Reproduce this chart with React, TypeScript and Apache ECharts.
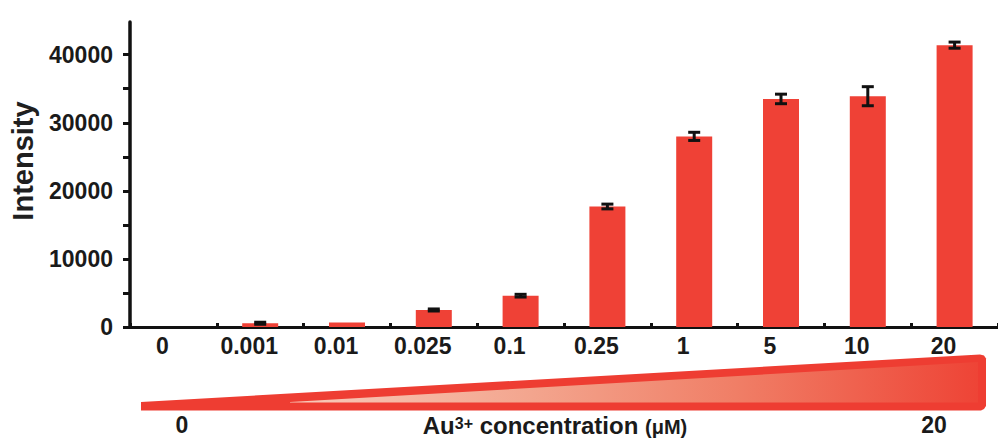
import React, { useEffect, useRef } from "react";
import * as echarts from "echarts";

const categories = ["0", "0.001", "0.01", "0.025", "0.1", "0.25", "1", "5", "10", "20"];
const intensity = [0, 550, 650, 2500, 4600, 17700, 28000, 33500, 33900, 41400];
const errors = [0, 150, 0, 150, 200, 350, 600, 700, 1400, 450];
const yTickValues = [0, 5000, 10000, 15000, 20000, 25000, 30000, 35000, 40000];
const yLabelValues = [0, 10000, 20000, 30000, 40000];
const gradientLeftLabel = "0";
const gradientRightLabel = "20";

const FONT = "'Liberation Sans', Arial, Helvetica, sans-serif";
const RED = "#ef4136";

export default function App() {
  const ref = useRef<HTMLDivElement>(null);

  useEffect(() => {
    if (!ref.current) return;
    const chart = echarts.init(ref.current, undefined, { renderer: "svg" });

    const errData = categories.map((_, i) => [i, intensity[i], errors[i]]);

    const option: any = {
      animation: false,
      backgroundColor: "#ffffff",
      grid: { left: 130, top: 22, height: 305, width: 877, containLabel: false },
      xAxis: {
        type: "category",
        data: categories,
        boundaryGap: true,
        axisLine: { show: true, lineStyle: { color: "#111", width: 3 } },
        axisTick: { show: true, inside: true, length: 4, lineStyle: { color: "#111", width: 3 } },
        axisLabel: {
          interval: 0,
          margin: 7,
          fontFamily: FONT,
          fontWeight: "bold",
          fontSize: 23,
          color: "#1a1a1a",
          padding: [0, 22, 0, 0],
        },
        splitLine: { show: false },
      },
      yAxis: {
        type: "value",
        min: 0,
        max: 44800,
        interval: 5000,
        axisLine: { show: true, lineStyle: { color: "#111", width: 3.5 } },
        axisTick: {
          show: true,
          length: 7,
          customValues: yTickValues,
          lineStyle: { color: "#111", width: 3 },
        },
        axisLabel: {
          customValues: yLabelValues,
          margin: 17,
          fontFamily: FONT,
          fontWeight: "bold",
          fontSize: 23,
          color: "#1a1a1a",
          formatter: (v: number) => (v % 10000 === 0 ? String(v) : ""),
        },
        splitLine: { show: false },
      },
      series: [
        {
          type: "bar",
          data: intensity,
          barWidth: 36,
          itemStyle: { color: RED },
          z: 2,
        },
        {
          type: "custom",
          data: errData,
          encode: { x: 0, y: 1 },
          z: 3,
          renderItem: (params: any, api: any) => {
            const x = api.value(0);
            const v = api.value(1);
            const e = api.value(2);
            if (!e) return null;
            const top = api.coord([x, v + e]);
            const bot = api.coord([x, v - e]);
            const hw = 6;
            const st = { stroke: "#111", lineWidth: 3 };
            return {
              type: "group",
              children: [
                { type: "line", shape: { x1: top[0], y1: top[1], x2: bot[0], y2: bot[1] }, style: st },
                { type: "line", shape: { x1: top[0] - hw, y1: top[1], x2: top[0] + hw, y2: top[1] }, style: st },
                { type: "line", shape: { x1: bot[0] - hw, y1: bot[1], x2: bot[0] + hw, y2: bot[1] }, style: st },
              ],
            };
          },
        },
      ],
      graphic: [
        {
          type: "text",
          x: 23,
          y: 161,
          rotation: Math.PI / 2,
          style: {
            text: "Intensity",
            fontFamily: FONT,
            fontWeight: "bold",
            fontSize: 29,
            fill: "#1f1f1f",
            textAlign: "center",
            textVerticalAlign: "middle",
          },
        },
        {
          type: "polygon",
          shape: {
            points: [
              [141, 402],
              [980, 354.5],
              [984, 355.5],
              [986, 358.5],
              [986, 406],
              [984, 409],
              [981, 410.5],
              [141, 410.5],
            ],
          },
          style: { fill: "#ee3d32" },
        },
        {
          type: "polygon",
          shape: {
            points: [
              [290, 402],
              [978, 362],
              [978, 402.5],
              [290, 402.5],
            ],
          },
          style: {
            fill: new echarts.graphic.LinearGradient(0, 0, 1, 0, [
              { offset: 0, color: "#f8cbbb" },
              { offset: 0.35, color: "#f3a58e" },
              { offset: 0.65, color: "#f07e66" },
              { offset: 1, color: "#ee4436" },
            ]),
          },
        },
        {
          type: "text",
          x: 182,
          y: 425,
          style: {
            text: gradientLeftLabel,
            fontFamily: FONT,
            fontWeight: "bold",
            fontSize: 23,
            fill: "#1a1a1a",
            textAlign: "center",
            textVerticalAlign: "middle",
          },
        },
        {
          type: "text",
          x: 934,
          y: 425,
          style: {
            text: gradientRightLabel,
            fontFamily: FONT,
            fontWeight: "bold",
            fontSize: 23,
            fill: "#1a1a1a",
            textAlign: "center",
            textVerticalAlign: "middle",
          },
        },
        {
          type: "text",
          x: 555,
          y: 426,
          style: {
            text: "{a|Au}{s|3+}{a| concentration }{m|(μM)}",
            textAlign: "center",
            textVerticalAlign: "middle",
            rich: {
              a: { fontFamily: FONT, fontWeight: "bold", fontSize: 24, fill: "#1a1a1a", verticalAlign: "bottom", lineHeight: 22 },
              s: { fontFamily: FONT, fontWeight: "bold", fontSize: 16, fill: "#1a1a1a", verticalAlign: "top", lineHeight: 22 },
              m: { fontFamily: FONT, fontWeight: "bold", fontSize: 20, fill: "#1a1a1a", verticalAlign: "bottom", lineHeight: 22 },
            },
          },
        },
      ],
    };

    chart.setOption(option);
    return () => chart.dispose();
  }, []);

  return (
    <div
      ref={ref}
      style={{ position: "absolute", left: 0, top: 0, width: 998, height: 438, background: "#fff" }}
    />
  );
}
